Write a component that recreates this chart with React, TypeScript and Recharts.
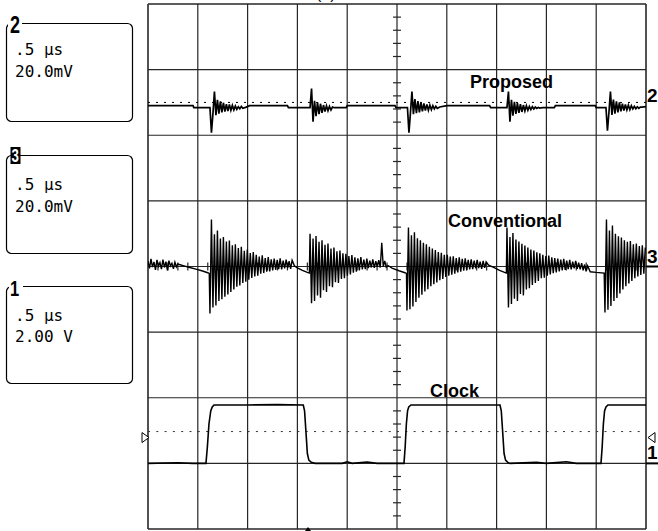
import React from "react";
import { LineChart, Line, XAxis, YAxis, ReferenceLine, ReferenceDot } from "recharts";

// ---- time base / vertical settings ----
const SAMPLE_STEP = 0.015; // µs between digitised samples in ringing regions
const xGrid = [0, 0.5, 1, 1.5, 2, 2.5, 3, 3.5, 4, 4.5, 5]; // µs (0.5 µs/div)
const yGrid = [-4, -3, -2, -1, 0, 1, 2, 3, 4]; // divisions
const xMinorTicks = [0.1,0.2,0.3,0.4,0.6,0.7,0.8,0.9,1.1,1.2,1.3,1.4,1.6,1.7,1.8,1.9,2.1,2.2,2.3,2.4,2.6,2.7,2.8,2.9,3.1,3.2,3.3,3.4,3.6,3.7,3.8,3.9,4.1,4.2,4.3,4.4,4.6,4.7,4.8,4.9];
const yMinorTicks = [-3.8,-3.6,-3.4,-3.2,-2.8,-2.6,-2.4,-2.2,-1.8,-1.6,-1.4,-1.2,-0.8,-0.6,-0.4,-0.2,0.2,0.4,0.6,0.8,1.2,1.4,1.6,1.8,2.2,2.4,2.6,2.8,3.2,3.4,3.6,3.8];

// channel settings: offset in divisions, scale per division
const ch1Offset = -3.0; const ch1Scale = 2.0;   // V/div
const ch2Offset = 2.45; const ch2Scale = 20.0;  // mV/div
const ch3Offset = 0.0;  const ch3Scale = 20.0;  // mV/div
const ch1Trigger = 0.97; // V
const ch2Reference = 1.0; // mV

// ---- Channel 1 : Clock (V) ----
const ch1Points: [number, number][] = [
  [0, 0], [0.3, 0.02], [0.45, 0.0], [0.582, 0], [0.596, 0.5], [0.612, 1.2], [0.63, 1.6], [0.645, 1.72], [0.663, 1.78],
  [1.0, 1.78], [1.3, 1.79], [1.559, 1.78], [1.572, 1.6], [1.585, 1.0], [1.6, 0.3], [1.615, 0.1], [1.64, 0.03], [1.677, 0],
  [1.95, 0.0], [2.0, 0.05], [2.05, 0.0], [2.2, 0.04], [2.3, 0.0], [2.57, 0], [2.582, 0.5], [2.594, 1.2], [2.606, 1.6],
  [2.618, 1.72], [2.64, 1.78], [3.534, 1.78], [3.547, 1.6], [3.56, 1.0], [3.575, 0.3], [3.59, 0.1], [3.612, 0.03],
  [3.635, 0], [3.9, 0.03], [4.0, 0.0], [4.2, 0.05], [4.3, 0.0], [4.548, 0], [4.56, 0.5], [4.572, 1.2], [4.584, 1.6],
  [4.598, 1.72], [4.618, 1.78], [5.0, 1.78],
];

// ---- Channel 2 : Proposed (mV) ----
const ch2Points: [number, number][] = [
  [0, 0], [0.452, 0], [0.46, -0.6], [0.615, -0.6], [0.98, -0.5], [1.02, 0], [1.4, 0], [1.41, -0.6], [1.62, -0.6],
  [1.87, -0.6], [1.99, -0.6], [2.0, 0], [2.48, 0], [2.49, -0.6], [2.598, -0.6], [2.93, -0.4], [3.0, 0], [3.43, 0],
  [3.44, -0.6], [3.598, -0.6], [3.96, -0.6], [4.08, -0.6], [4.09, 0], [4.49, 0], [4.5, -0.6], [4.592, -0.6],
  [4.96, -0.4], [5.0, -0.3],
];
const ch2RingStarts = [0.622, 1.627, 2.605, 3.604, 4.598];
const ch2Ring1 = [-0.6, -8.2, -2.4, 4.3, -2.9, 1.8, -2.4, 1.3, -2.0, 0.9, -1.8, 0.5, -1.6, 0.4, -1.4, 0.1, -1.3, -0.1, -1.1, -0.3, -0.9, -0.2, -0.8];
const ch2Ring2 = [-0.6, 5.2, -4.9, 1.5, -3.2, 1.0, -2.6, 0.6, -2.2, 0.2, -1.8, 0.0, -1.5, -0.2, -1.3, -0.4];
const ch2Ring3 = [-0.6, -8.2, -2.2, 4.3, -2.6, 2.0, -2.3, 1.4, -2.0, 1.0, -1.7, 0.7, -1.5, 0.4, -1.4, 0.2, -1.2, 0.0, -1.0, -0.2, -0.8];
const ch2Ring4 = [-0.6, 4.3, -4.9, 1.8, -3.0, 1.2, -2.5, 0.8, -2.2, 0.5, -1.9, 0.2, -1.6, 0.0, -1.4, -0.2, -1.2, -0.3, -1.0, -0.4, -0.8, -0.5, -0.7];
const ch2Ring5 = [-0.6, -7.6, -2.0, 4.3, -2.8, 1.9, -2.4, 1.3, -2.0, 1.0, -1.7, 0.6, -1.5, 0.4, -1.3, 0.2, -1.2, 0.0, -1.0, -0.2, -0.9, -0.3, -0.8, -0.4];

// ---- Channel 3 : Conventional (mV) ----
const ch3Points: [number, number][] = [
  [0.315, 0.6], [0.36, 0.2], [0.42, -0.3], [0.48, -0.8], [0.54, -1.3], [0.6, -1.9], [0.615, -2.1],
  [1.47, 0.2], [1.5, -0.4], [1.55, -1.2], [1.6, -1.8], [1.62, -2.0],
  [2.41, 0.3], [2.45, -0.5], [2.52, -1.3], [2.58, -1.9], [2.595, -2.1],
  [3.42, 0.4], [3.47, -0.3], [3.53, -1.2], [3.58, -1.8], [3.598, -2.0],
  [4.44, -1.6], [4.5, -1.8], [4.58, -2.0],
];
const ch3LeadStart = 0;
const ch3Lead = [1.6, -0.6, 2.3, -0.2, 1.4, -1.0, 2.0, 0.1, 1.2, -0.8, 2.1, -0.3, 1.5, -1.2, 1.8, 0.2, 1.0, -0.7, 1.3, -0.1, 0.8];
const ch3BurstStarts = [0.622, 1.627, 2.6, 3.604, 4.588];
const ch3Burst1 = [-14.3, 14.3, -12.5, 9.8, -11.9, 11.0, -10.5, 8.5, -10.0, 9.0, -9.2, 7.6, -8.5, 7.9, -7.8, 6.5, -7.0, 6.8, -6.2, 5.6, -5.8, 6.0, -5.0, 4.8, -4.6, 5.2, -4.0, 4.1, -3.5, 4.4, -3.0, 3.6, -2.8, 3.0, -2.2, 3.4, -2.0, 2.6, -1.6, 2.9, -1.5, 2.2, -1.2, 2.4, -1.0, 2.0, -0.8, 2.5, -0.9, 1.8, -0.6, 2.1, -0.5, 1.6, -0.7, 1.9];
const ch3Burst2 = [10.0, -11.2, 8.5, -10.5, 9.3, -8.8, 7.5, -9.5, 8.0, -7.2, 6.6, -7.8, 7.0, -6.0, 5.5, -6.3, 5.8, -4.8, 4.6, -5.0, 4.9, -3.8, 4.0, -3.6, 3.9, -2.8, 3.2, -2.4, 3.5, -1.9, 2.8, -1.6, 2.5, -1.2, 2.9, -0.9, 2.1, -0.8, 2.4, -0.5, 1.8, -0.3, 2.2, -0.4, 1.6, -0.1, 1.9, -0.3, 7.2, 0.0, 1.7, -0.2];
const ch3Burst3 = [-13.4, 11.9, -13.0, 9.5, -12.2, 10.4, -10.8, 8.6, -9.5, 8.0, -8.6, 7.2, -7.6, 6.8, -6.9, 6.0, -6.0, 5.5, -5.4, 5.0, -4.9, 4.4, -4.2, 4.2, -3.8, 3.6, -3.2, 3.6, -2.8, 3.0, -2.5, 3.1, -2.2, 2.6, -1.8, 2.8, -1.6, 2.3, -1.3, 2.5, -1.1, 2.0, -0.9, 2.2, -0.8, 1.8, -0.6, 2.0, -0.5, 1.5, -0.7, 1.7, -0.4, 1.4];
const ch3Burst4 = [11.9, -12.5, 9.0, -11.4, 10.2, -9.8, 8.2, -10.5, 7.6, -8.4, 6.9, -8.8, 6.4, -7.0, 5.8, -6.6, 5.2, -5.6, 4.9, -5.0, 4.3, -4.4, 4.0, -3.6, 3.6, -3.4, 3.2, -2.8, 3.3, -2.4, 2.8, -2.0, 2.6, -1.8, 2.4, -1.5, 2.1, -1.2, 2.3, -1.0, 1.8, -0.8, 2.0, -0.9, 1.5, -0.6, 1.7, -0.7, 1.2, -0.9, 1.0, -1.2, 0.6, -1.5, 0.2];
const ch3Burst5 = [-14.0, 14.3, -13.2, 11.0, -12.0, 12.5, -10.5, 10.0, -9.6, 9.2, -8.2, 8.8, -7.0, 8.0, -6.0, 7.5, -5.2, 7.8, -4.4, 6.8, -3.6, 7.0, -3.0, 6.2, -2.6, 6.5, -2.2, 5.8];

// ---- labels ----
const boxTime = ".5 µs";
const ch2Volts = "20.0mV";
const ch3Volts = "20.0mV";
const ch1Volts = "2.00 V";

type Pt = { t: number; y: number };
function buildTrace(points: [number, number][], runs: { t0: number; v: number[] }[], offset: number, scale: number): Pt[] {
  const raw: { t: number; v: number }[] = points.map(([t, v]) => ({ t, v }));
  runs.forEach((r) => r.v.forEach((v, i) => raw.push({ t: r.t0 + i * SAMPLE_STEP, v })));
  raw.sort((a, b) => a.t - b.t);
  return raw.filter((p) => p.t <= 5).map((p) => ({ t: p.t, y: offset + p.v / scale }));
}

const ch1Data = buildTrace(ch1Points, [], ch1Offset, ch1Scale);
const ch2Data = buildTrace(
  ch2Points,
  [ch2Ring1, ch2Ring2, ch2Ring3, ch2Ring4, ch2Ring5].map((v, i) => ({ t0: ch2RingStarts[i], v })),
  ch2Offset,
  ch2Scale
);
const ch3Data = buildTrace(
  ch3Points,
  [{ t0: ch3LeadStart, v: ch3Lead }].concat(
    [ch3Burst1, ch3Burst2, ch3Burst3, ch3Burst4, ch3Burst5].map((v, i) => ({ t0: ch3BurstStarts[i], v }))
  ),
  ch3Offset,
  ch3Scale
);

const GRID = "#262626";

const RightMarker = (label: string, withLine: boolean) => (props: any) => {
  const { cx, cy } = props;
  return (
    <g>
      {withLine && <line x1={cx} x2={cx + 14} y1={cy} y2={cy} stroke="#000" strokeWidth={2} />}
      <text x={cx + 1} y={cy - 4} fontFamily="Liberation Sans, Arial, sans-serif" fontWeight="bold" fontSize={19} fill="#000">
        {label}
      </text>
    </g>
  );
};

const TrigLeft = (props: any) => {
  const { cx, cy } = props;
  return <polygon points={`${cx - 6},${cy + 1} ${cx - 6},${cy + 11} ${cx + 1},${cy + 6}`} fill="#fff" stroke="#000" strokeWidth={1} />;
};
const TrigRight = (props: any) => {
  const { cx, cy } = props;
  return <polygon points={`${cx + 9},${cy + 1} ${cx + 9},${cy + 11} ${cx + 2},${cy + 6}`} fill="#fff" stroke="#000" strokeWidth={1} />;
};

export default function App() {
  const mono = "DejaVu Sans Mono, monospace";
  const bold = "Liberation Sans, Arial, sans-serif";
  return (
    <div style={{ position: "absolute", left: 0, top: 0, width: 658, height: 531, background: "#fff", overflow: "hidden" }}>
      <LineChart width={658} height={531} margin={{ top: 4, right: 12, bottom: 2, left: 148 }}>
        <XAxis type="number" dataKey="t" domain={[0, 5]} hide allowDataOverflow />
        <YAxis type="number" domain={[-4, 4]} hide allowDataOverflow />
        {xGrid.map((x) => (
          <ReferenceLine key={"vx" + x} x={x} stroke={GRID} strokeWidth={x === 0 || x === 5 ? 1.6 : 1.2} />
        ))}
        {yGrid.map((y) => (
          <ReferenceLine key={"hy" + y} y={y} stroke={GRID} strokeWidth={y === -4 || y === 4 ? 1.6 : 1.2} />
        ))}
        {yMinorTicks.map((y) => (
          <ReferenceLine key={"ty" + y} segment={[{ x: 2.46, y }, { x: 2.54, y }]} stroke={GRID} strokeWidth={1.2} />
        ))}
        {xMinorTicks.map((x) => (
          <ReferenceLine key={"tx" + x} segment={[{ x, y: -0.06 }, { x, y: 0.06 }]} stroke={GRID} strokeWidth={1.2} />
        ))}
        <ReferenceLine y={ch2Offset + ch2Reference / ch2Scale} stroke="#000" strokeWidth={1} strokeDasharray="2 6" />
        <ReferenceLine y={ch1Offset + ch1Trigger / ch1Scale} stroke="#333" strokeWidth={1} strokeDasharray="2 6.3" />
        <Line data={ch3Data} dataKey="y" type="linear" stroke="#000" strokeWidth={1.4} dot={false} isAnimationActive={false} />
        <Line data={ch2Data} dataKey="y" type="linear" stroke="#000" strokeWidth={1.7} dot={false} isAnimationActive={false} />
        <Line data={ch1Data} dataKey="y" type="linear" stroke="#000" strokeWidth={1.6} dot={false} isAnimationActive={false} />
        <ReferenceDot x={5} y={ch2Offset} r={3} shape={RightMarker("2", false)} />
        <ReferenceDot x={5} y={ch3Offset} r={3} shape={RightMarker("3", true)} />
        <ReferenceDot x={5} y={ch1Offset} r={3} shape={RightMarker("1", true)} />
        <ReferenceDot x={0} y={ch1Offset + ch1Trigger / ch1Scale} r={3} shape={TrigLeft} />
        <ReferenceDot x={5} y={ch1Offset + ch1Trigger / ch1Scale} r={3} shape={TrigRight} />
      </LineChart>
      <svg width={658} height={531} style={{ position: "absolute", left: 0, top: 0, pointerEvents: "none" }}>
        <text x={316} y={-1} fontFamily={bold} fontSize={16} fill="#000">(a)</text>
        <text x={470} y={88} fontFamily={bold} fontWeight="bold" fontSize={18} fill="#000">Proposed</text>
        <text x={448} y={227} fontFamily={bold} fontWeight="bold" fontSize={18} fill="#000">Conventional</text>
        <text x={430} y={397} fontFamily={bold} fontWeight="bold" fontSize={18} fill="#000">Clock</text>
        <path d="M305 531 L308 527 L311 531 Z" fill="#000" />

        {/* channel 2 box */}
        <rect x={6.5} y={23.5} width={126} height={98} rx={5} fill="none" stroke="#000" strokeWidth={1.2} />
        <rect x={8} y={14} width={14} height={20} fill="#fff" />
        <text x={10} y={33} fontFamily={bold} fontWeight="bold" fontSize={24} fill="#000" transform="translate(10 33) scale(0.75 1) translate(-10 -33)">2</text>
        <text x={15} y={55} fontFamily={mono} fontSize={16} fill="#000">{boxTime}</text>
        <text x={15} y={77} fontFamily={mono} fontSize={16} fill="#000">{ch2Volts}</text>

        {/* channel 3 box */}
        <rect x={6.5} y={155.5} width={126} height={98} rx={5} fill="none" stroke="#000" strokeWidth={1.2} />
        <rect x={10.5} y={147} width={10} height={17} fill="#000" />
        <text x={11.5} y={162} fontFamily={bold} fontWeight="bold" fontSize={19} fill="#fff" transform="translate(11.5 162) scale(0.7 1) translate(-11.5 -162)">3</text>
        <text x={15} y={190} fontFamily={mono} fontSize={16} fill="#000">{boxTime}</text>
        <text x={15} y={212} fontFamily={mono} fontSize={16} fill="#000">{ch3Volts}</text>

        {/* channel 1 box */}
        <rect x={6.5} y={286.5} width={126} height={97} rx={5} fill="none" stroke="#000" strokeWidth={1.2} />
        <rect x={9} y={278} width={14} height={19} fill="#fff" />
        <text x={10} y={296} fontFamily={bold} fontWeight="bold" fontSize={22} fill="#000" transform="translate(10 296) scale(0.75 1) translate(-10 -296)">1</text>
        <text x={15} y={321} fontFamily={mono} fontSize={16} fill="#000">{boxTime}</text>
        <text x={15} y={342} fontFamily={mono} fontSize={16} fill="#000">{ch1Volts}</text>
      </svg>
    </div>
  );
}
